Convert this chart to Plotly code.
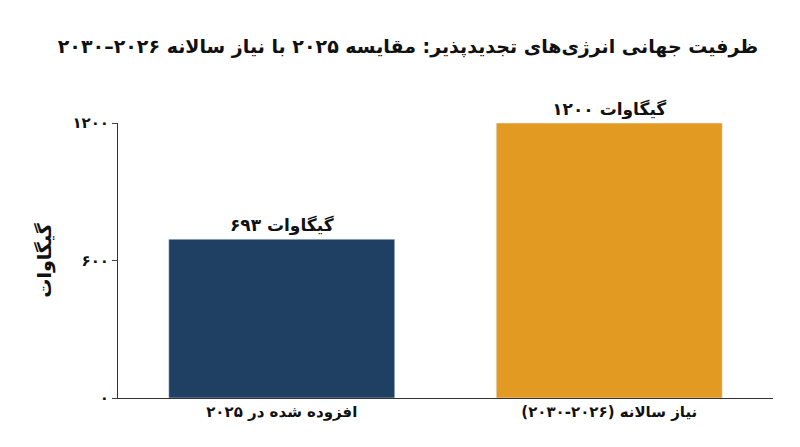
import plotly.graph_objects as go

categories = ["افزوده شده در ۲۰۲۵", "نیاز سالانه (۲۰۲۶-۲۰۳۰)"]
values = [693, 1200]
bar_labels = ["گیگاوات ۶۹۳", "گیگاوات ۱۲۰۰"]
tick_vals = [0, 600, 1200]
tick_text = ["۰", "۶۰۰", "۱۲۰۰"]
colors = ["#1f3f63", "#e39a22"]

fig = go.Figure(go.Bar(
    x=categories, y=values, marker_color=colors, width=0.69,
    text=["<b>%s</b>" % t for t in bar_labels], textposition="outside", cliponaxis=False,
    textfont=dict(size=17, color="#111", family="DejaVu Sans"),
))
fig.update_layout(
    width=800, height=447, plot_bgcolor="white", paper_bgcolor="white",
    margin=dict(l=110, r=35, t=115, b=57, autoexpand=False),
    font=dict(family="DejaVu Sans", color="#111"),
    title=dict(text="<b>ظرفیت جهانی انرژی‌های تجدیدپذیر: مقایسه ۲۰۲۵ با نیاز سالانه ۲۰۲۶–۲۰۳۰</b>",
               x=0.5, xanchor="center", y=0.915, yanchor="middle", font=dict(size=19)),
    showlegend=False,
)
fig.update_yaxes(range=[0, 1200], tickvals=tick_vals, ticktext=["<b>%s</b>" % t for t in tick_text],
                 showgrid=False, showline=True, linecolor="#333", ticks="outside",
                 tickfont=dict(size=15), title=dict(text="<b>گیگاوات</b>", font=dict(size=19)))
fig.update_xaxes(showline=True, linecolor="#333", tickfont=dict(size=15),
                 ticktext=["<b>%s</b>" % c for c in categories], tickvals=categories)
fig.write_html("out.html")
